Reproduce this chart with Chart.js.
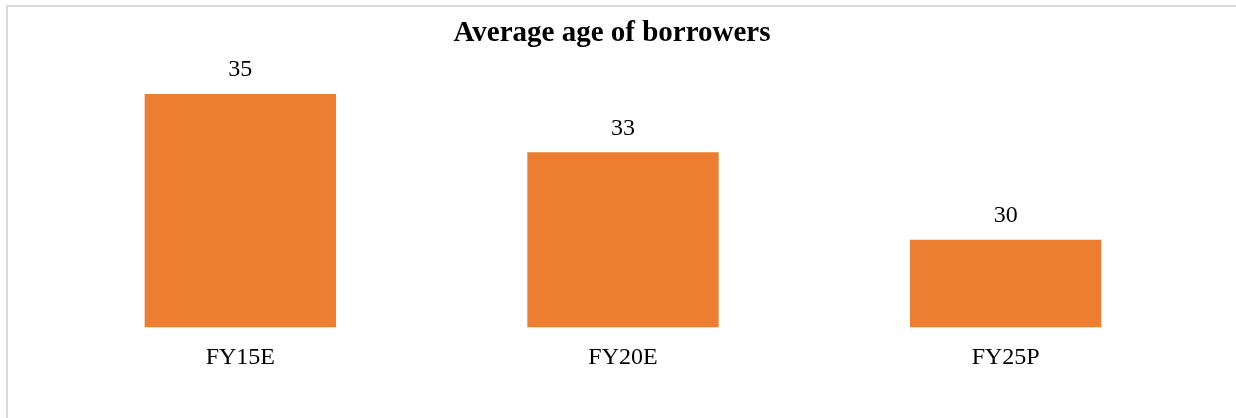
<!DOCTYPE html>
<html>
<head>
<meta charset="utf-8">
<script src="https://cdn.jsdelivr.net/npm/chart.js@4/dist/chart.umd.min.js"></script>
<style>
  html, body { margin: 0; padding: 0; background: #fff; overflow: hidden; }
  #frame {
    position: absolute; left: 6px; top: 5px; width: 1300px; height: 500px;
    border: 2px solid #d9d9d9; box-sizing: border-box;
  }
  #wrap { position: absolute; left: 0; top: 0; width: 1236px; height: 418px; }
</style>
</head>
<body>
<div id="frame"></div>
<div id="wrap"><canvas id="age_canvas"></canvas></div>
<script>
  var categories = ['FY15E', 'FY20E', 'FY25P'];
  var avg_age    = [35, 33, 30];
  var title_text = 'Average age of borrowers';

  //  value labels above each bar
  var barLabels = {
    id: 'barLabels',
    afterDatasetsDraw: function(chart) {
      var ctx  = chart.ctx,
          meta = chart.getDatasetMeta(0);

      ctx.save();
      ctx.font = '24px "Liberation Serif"';
      ctx.fillStyle = '#000';
      ctx.textAlign = 'center';
      ctx.textBaseline = 'middle';
      meta.data.forEach(function(bar, i) {
        ctx.fillText(String(avg_age[i]), bar.x, bar.y - 24);
      });
      ctx.restore();
    }
  };

  //  hidden value axis, only used to reserve side space
  function hiddenAxis(_pos, _width) {
    return {
      position: _pos,
      min: 27,
      max: 36,
      ticks: { display: false },
      grid: { display: false, drawTicks: false },
      border: { display: false },
      afterFit: function(scale) { scale.width = _width; }
    };
  }

  var ctx = document.getElementById('age_canvas').getContext('2d');
  var myBar = new Chart(ctx, {
    type: 'bar',
    data: {
      labels: categories,
      datasets: [{
        data: avg_age,
        backgroundColor: '#ED7D31',
        borderWidth: 0,
        categoryPercentage: 1,
        barPercentage: 0.5,
        yAxisID: 'y'
      }]
    },
    options: {
      responsive: true,
      maintainAspectRatio: false,
      animation: false,
      layout: { padding: { left: 0, right: 12, top: 0, bottom: 30 } },
      plugins: {
        legend: { display: false },
        tooltip: { enabled: false },
        title: {
          display: true,
          text: title_text,
          color: '#000',
          font: { family: '"Liberation Serif"', size: 29, weight: 'bold' },
          padding: { top: 16, bottom: 14 }
        }
      },
      scales: {
        x: {
          grid: { display: false, drawTicks: false },
          border: { display: false },
          ticks: {
            color: '#000',
            padding: 16,
            font: { family: '"Liberation Serif"', size: 24 }
          }
        },
        y: hiddenAxis('left', 49),
        yRight: hiddenAxis('right', 27)
      }
    },
    plugins: [barLabels]
  });
</script>
</body>
</html>
